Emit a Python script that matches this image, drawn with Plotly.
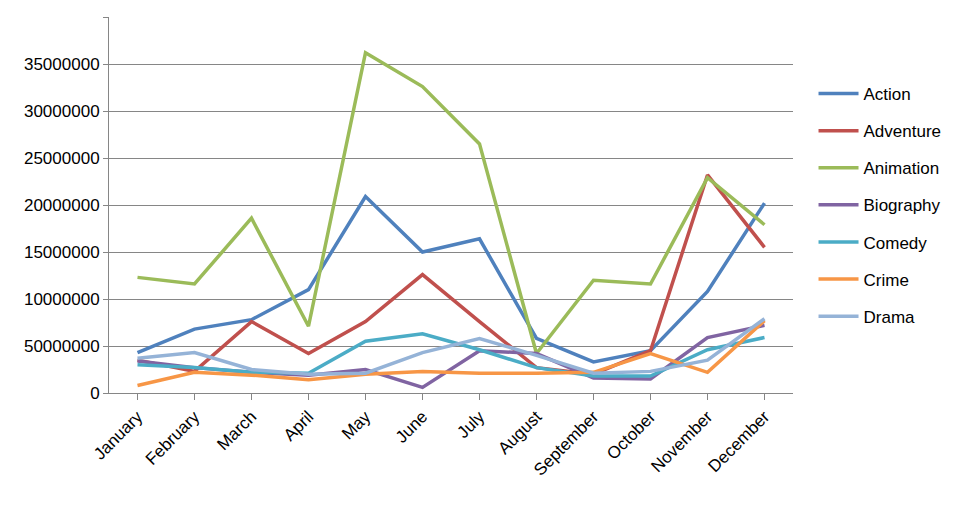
import plotly.graph_objects as go

months = ["January","February","March","April","May","June","July","August","September","October","November","December"]
action    = [4.3,6.8,7.8,11.0,20.9,15.0,16.4,5.8,3.3,4.5,10.8,20.2]
adventure = [3.5,2.3,7.6,4.2,7.6,12.6,7.6,2.7,2.0,4.5,23.2,15.5]
animation = [12.3,11.6,18.6,7.1,36.2,32.6,26.5,4.2,12.0,11.6,22.9,17.9]
biography = [3.4,2.7,2.2,1.9,2.5,0.6,4.5,4.2,1.6,1.5,5.9,7.2]
comedy    = [3.0,2.7,2.2,2.1,5.5,6.3,4.6,2.7,1.8,1.8,4.6,5.9]
crime     = [0.8,2.2,1.9,1.4,2.0,2.3,2.1,2.1,2.2,4.2,2.2,7.7]
drama     = [3.7,4.3,2.5,2.0,2.1,4.3,5.8,4.0,2.1,2.3,3.5,7.9]
tickvals = [0,5e6,10e6,15e6,20e6,25e6,30e6,35e6,40e6]
ticktext = ["0","50000000","10000000","15000000","20000000","25000000","30000000","35000000","40000000"]

series = [("Action",action,"#4F81BD"),("Adventure",adventure,"#C0504D"),("Animation",animation,"#9BBB59"),
          ("Biography",biography,"#8064A2"),("Comedy",comedy,"#4BACC6"),("Crime",crime,"#F79646"),("Drama",drama,"#95B3D7")]

fig = go.Figure()
for name, vals, col in series:
    fig.add_trace(go.Scatter(x=months, y=[v*1e6 for v in vals], name=name, mode="lines", legendgroup=name,
                             line=dict(color=col, width=3.5)))

fig.update_layout(
    width=963, height=510, paper_bgcolor="white", plot_bgcolor="white",
    margin=dict(l=101, r=178, t=9, b=125),
    font=dict(family="Liberation Sans, Arial", size=17, color="black"),
    showlegend=True,
    legend=dict(x=1.03, y=0.5, yanchor="middle", xanchor="left", font=dict(size=17),
                tracegroupgap=12, itemwidth=40),
    xaxis=dict(showline=True, linecolor="#868686", ticks="outside", tickcolor="#868686", ticklen=6,
               tickangle=-45, showgrid=False, range=[-0.5,11.5], tickfont=dict(size=17)),
    yaxis=dict(range=[0,40e6], tickvals=tickvals, ticktext=ticktext, showgrid=True, gridcolor="#868686",
               showline=True, linecolor="#868686", ticks="outside", tickcolor="#868686", ticklen=5,
               tickfont=dict(size=17), zeroline=False),
)
fig.write_html("out.html")
